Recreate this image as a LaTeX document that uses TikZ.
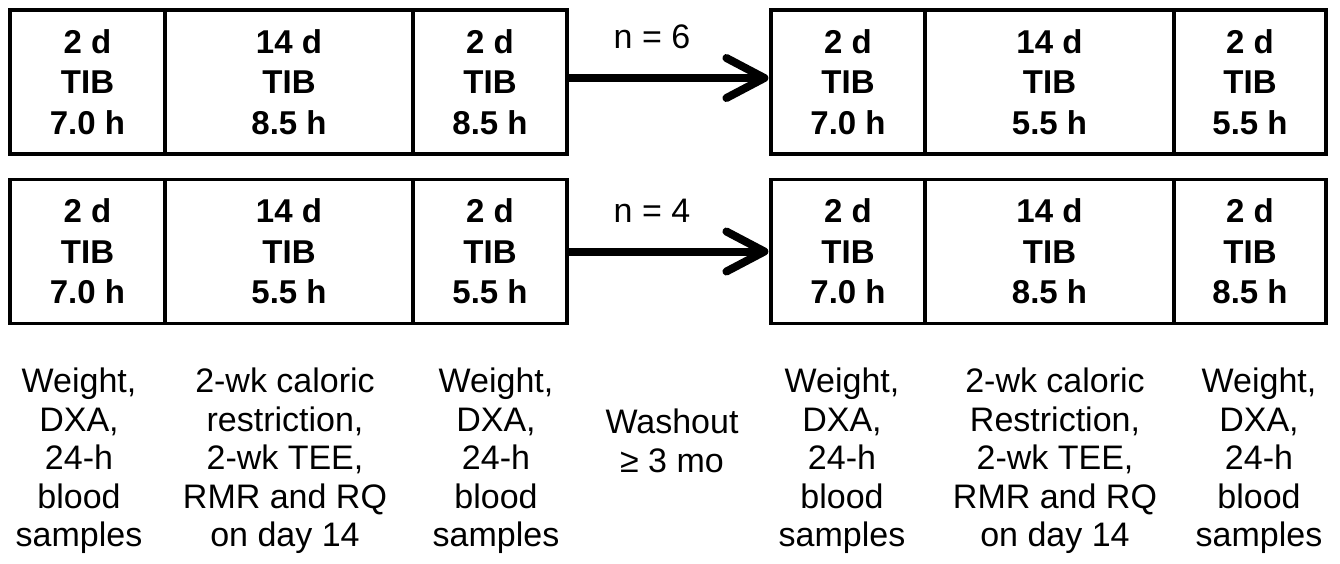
\documentclass[tikz,border=0pt]{standalone}
\usepackage{fontspec}
\setmainfont{Liberation Sans}
\begin{document}
\begin{tikzpicture}[x=1pt,y=-1pt,
  cell/.style={draw, line width=3.2pt, inner sep=0pt, minimum height=144pt, align=center,
    font=\fontsize{33}{40.5}\selectfont\bfseries},
  note/.style={inner sep=0pt, align=center, font=\fontsize{34}{38.5}\selectfont},
  shaft/.style={line width=8pt, line cap=butt},
  chevron/.style={line width=8pt, line cap=round, line join=round}]
\useasboundingbox[fill=white] (0,0) rectangle (1340,563);
% top left
\node[cell, minimum width=155pt] (a1) at (87.5,82) {2 d\\TIB\\7.0 h};
\node[cell, minimum width=248pt] (a2) at (289,82) {14 d\\TIB\\8.5 h};
\node[cell, minimum width=154pt] (a3) at (490,82) {2 d\\TIB\\8.5 h};
% top right
\node[cell, minimum width=154pt] (b1) at (848,82) {2 d\\TIB\\7.0 h};
\node[cell, minimum width=249pt] (b2) at (1049.5,82) {14 d\\TIB\\5.5 h};
\node[cell, minimum width=152pt] (b3) at (1250,82) {2 d\\TIB\\5.5 h};
% bottom left
\node[cell, minimum width=155pt] (c1) at (87.5,251.5) {2 d\\TIB\\7.0 h};
\node[cell, minimum width=248pt] (c2) at (289,251.5) {14 d\\TIB\\5.5 h};
\node[cell, minimum width=154pt] (c3) at (490,251.5) {2 d\\TIB\\5.5 h};
% bottom right
\node[cell, minimum width=154pt] (d1) at (848,251.5) {2 d\\TIB\\7.0 h};
\node[cell, minimum width=249pt] (d2) at (1049.5,251.5) {14 d\\TIB\\8.5 h};
\node[cell, minimum width=152pt] (d3) at (1250,251.5) {2 d\\TIB\\8.5 h};
% arrows
\coordinate (t1) at ([xshift=-5pt,yshift=4pt]b1.west);
\coordinate (t2) at ([xshift=-5pt]d1.west);
\draw[shaft] ([yshift=4pt]a3.east) -- (t1);
\draw[chevron] ([xshift=-43pt,yshift=24pt]b1.west) -- (t1) -- ([xshift=-43pt,yshift=-16pt]b1.west);
\draw[shaft] (c3.east) -- (t2);
\draw[chevron] ([xshift=-43pt,yshift=20pt]d1.west) -- (t2) -- ([xshift=-43pt,yshift=-20pt]d1.west);
\node[note] (n6) at (652,36.5) {n = 6};
\node[note] (n4) at (652,210.5) {n = 4};
% notes
\node[note] (w1) at (79,461) {Weight,\\DXA,\\24-h\\blood\\samples};
\node[note] (r1) at (285,461) {2-wk caloric\\restriction,\\2-wk TEE,\\RMR and RQ\\on day 14};
\node[note] (w2) at (496,461) {Weight,\\DXA,\\24-h\\blood\\samples};
\node[note] (wo) at (672,441) {Washout\\≥ 3 mo};
\node[note] (w3) at (842,461) {Weight,\\DXA,\\24-h\\blood\\samples};
\node[note] (r2) at (1055,461) {2-wk caloric\\Restriction,\\2-wk TEE,\\RMR and RQ\\on day 14};
\node[note] (w4) at (1259,461) {Weight,\\DXA,\\24-h\\blood\\samples};
\end{tikzpicture}
\end{document}
